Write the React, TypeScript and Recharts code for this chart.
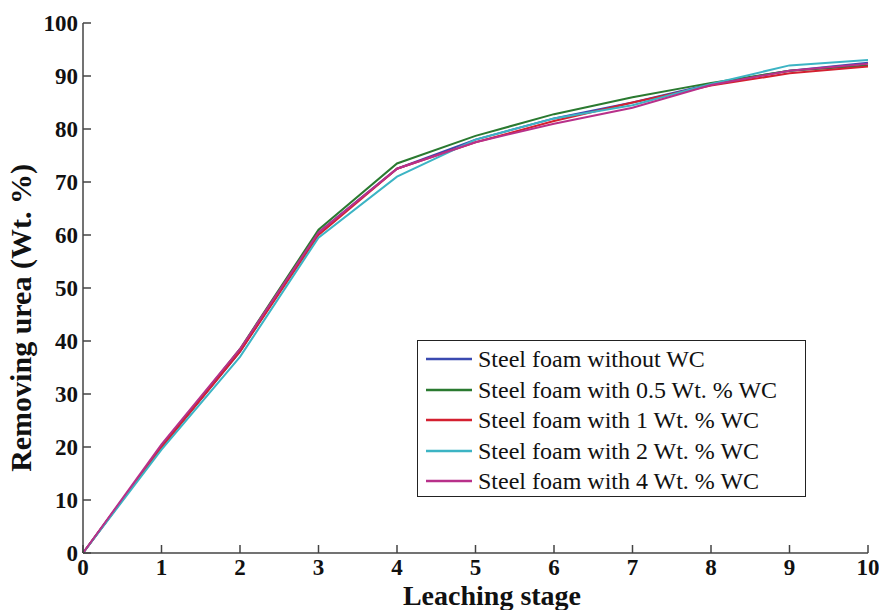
import React from "react";
import { LineChart, Line, XAxis, YAxis, Legend } from "recharts";

const stages = [0, 1, 2, 3, 4, 5, 6, 7, 8, 9, 10];
const withoutWC = [0, 20, 38, 60.5, 72.5, 78, 82, 85, 88.5, 91, 92.5];
const wc05 = [0, 20, 38.5, 61, 73.5, 78.7, 82.8, 86, 88.7, 91, 92];
const wc1 = [0, 20, 38, 60, 72.5, 77.5, 81.5, 85, 88.2, 90.5, 91.8];
const wc2 = [0, 19.5, 37, 59.5, 71, 78, 82, 84.5, 88.5, 92, 93];
const wc4 = [0, 20.5, 38.5, 60.5, 72.5, 77.5, 81, 84, 88.3, 91, 92.3];

const xTicks = [0, 1, 2, 3, 4, 5, 6, 7, 8, 9, 10];
const yTicks = [0, 10, 20, 30, 40, 50, 60, 70, 80, 90, 100];

const seriesNames = [
  "Steel foam without WC",
  "Steel foam with 0.5 Wt. % WC",
  "Steel foam with 1 Wt. % WC",
  "Steel foam with 2 Wt. % WC",
  "Steel foam with 4 Wt. % WC",
];
const seriesColors = ["#3a4ab0", "#2a7a30", "#d42030", "#3cb4c4", "#b8308a"];
const seriesValues = [withoutWC, wc05, wc1, wc2, wc4];
const seriesKeys = ["s0", "s1", "s2", "s3", "s4"];

const data = stages.map((x, i) => {
  const row: any = { x };
  seriesKeys.forEach((k, j) => {
    row[k] = seriesValues[j][i];
  });
  return row;
});

const FONT = "Liberation Serif, DejaVu Serif, serif";
const AXIS = "#444";
const TL = 8;

const BottomTick = (p: any) => (
  <g>
    <line x1={p.x} y1={p.y} x2={p.x} y2={p.y - TL} stroke={AXIS} strokeWidth={1.5} />
    <text x={p.x} y={p.y + 22} textAnchor="middle" style={{ fontFamily: FONT }} fontWeight="bold" fontSize={23} fill="#111">
      {p.payload.value}
    </text>
  </g>
);
const TopTick = (p: any) => (
  <line x1={p.x} y1={p.y} x2={p.x} y2={p.y + TL} stroke={AXIS} strokeWidth={1.5} />
);
const LeftTick = (p: any) => (
  <g>
    <line x1={p.x} y1={p.y} x2={p.x + TL} y2={p.y} stroke={AXIS} strokeWidth={1.5} />
    <text x={p.x - 5} y={p.y} dy="0.34em" textAnchor="end" style={{ fontFamily: FONT }} fontWeight="bold" fontSize={23} fill="#111">
      {p.payload.value}
    </text>
  </g>
);
const RightTick = (p: any) => (
  <line x1={p.x} y1={p.y} x2={p.x - TL} y2={p.y} stroke={AXIS} strokeWidth={1.5} />
);

const LegendBox = () => (
  <div
    style={{
      width: 389,
      height: 157,
      border: "1.5px solid #222",
      background: "#fff",
      position: "relative",
      boxSizing: "border-box",
    }}
  >
    {seriesNames.map((name, i) => (
      <div key={i} style={{ position: "absolute", left: 0, top: 18 + i * 30.5 - 15, height: 30, width: 389 }}>
        <svg width={60} height={30} style={{ position: "absolute", left: 0, top: 0 }}>
          <line x1={8} y1={15} x2={54} y2={15} stroke={seriesColors[i]} strokeWidth={2.5} />
        </svg>
        <span
          style={{
            position: "absolute",
            left: 60,
            top: 0,
            lineHeight: "30px",
            fontFamily: FONT,
            fontSize: 24,
            color: "#111",
            whiteSpace: "nowrap",
          }}
        >
          {name}
        </span>
      </div>
    ))}
  </div>
);

export default function App() {
  return (
    <div style={{ position: "absolute", left: 0, top: 0, width: 879, height: 610, background: "#fff", fontFamily: FONT }}>
      <LineChart width={879} height={610} data={data} margin={{ top: 23, right: 11, bottom: 0, left: 0 }}>
        <XAxis
          dataKey="x"
          type="number"
          domain={[0, 10]}
          ticks={xTicks}
          height={57}
          tickSize={0}
          tickMargin={0}
          tickLine={false}
          axisLine={{ stroke: AXIS, strokeWidth: 1.5 }}
          tick={<BottomTick />}
          interval={0}
        />
        <XAxis
          xAxisId="top"
          orientation="top"
          dataKey="x"
          type="number"
          domain={[0, 10]}
          ticks={xTicks}
          height={0}
          tickSize={0}
          tickMargin={0}
          tickLine={false}
          axisLine={{ stroke: AXIS, strokeWidth: 1.5 }}
          tick={<TopTick />}
          interval={0}
        />
        <YAxis
          type="number"
          domain={[0, 100]}
          ticks={yTicks}
          width={83}
          tickSize={0}
          tickMargin={0}
          tickLine={false}
          axisLine={{ stroke: AXIS, strokeWidth: 1.5 }}
          tick={<LeftTick />}
          interval={0}
        />
        <YAxis
          yAxisId="right"
          orientation="right"
          type="number"
          domain={[0, 100]}
          ticks={yTicks}
          width={0}
          tickSize={0}
          tickMargin={0}
          tickLine={false}
          axisLine={{ stroke: AXIS, strokeWidth: 1.5 }}
          tick={<RightTick />}
          interval={0}
        />
        <Legend
          layout="horizontal"
          verticalAlign="middle"
          align="center"
          content={<LegendBox />}
          wrapperStyle={{ position: "absolute", left: 417, top: 340, width: 389, height: 157 }}
        />
        {seriesKeys.map((k, j) => (
          <Line
            key={k}
            type="linear"
            dataKey={k}
            name={seriesNames[j]}
            stroke={seriesColors[j]}
            strokeWidth={2}
            dot={false}
            activeDot={false}
            isAnimationActive={false}
          />
        ))}
        <text x={492} y={605} textAnchor="middle" style={{ fontFamily: FONT }} fontWeight="bold" fontSize={28} fill="#111">
          Leaching stage
        </text>
        <text
          x={31}
          y={318}
          transform="rotate(-90 31 318)"
          textAnchor="middle"
          style={{ fontFamily: FONT }}
          fontWeight="bold"
          fontSize={30}
          fill="#111"
        >
          Removing urea (Wt. %)
        </text>
      </LineChart>
    </div>
  );
}
